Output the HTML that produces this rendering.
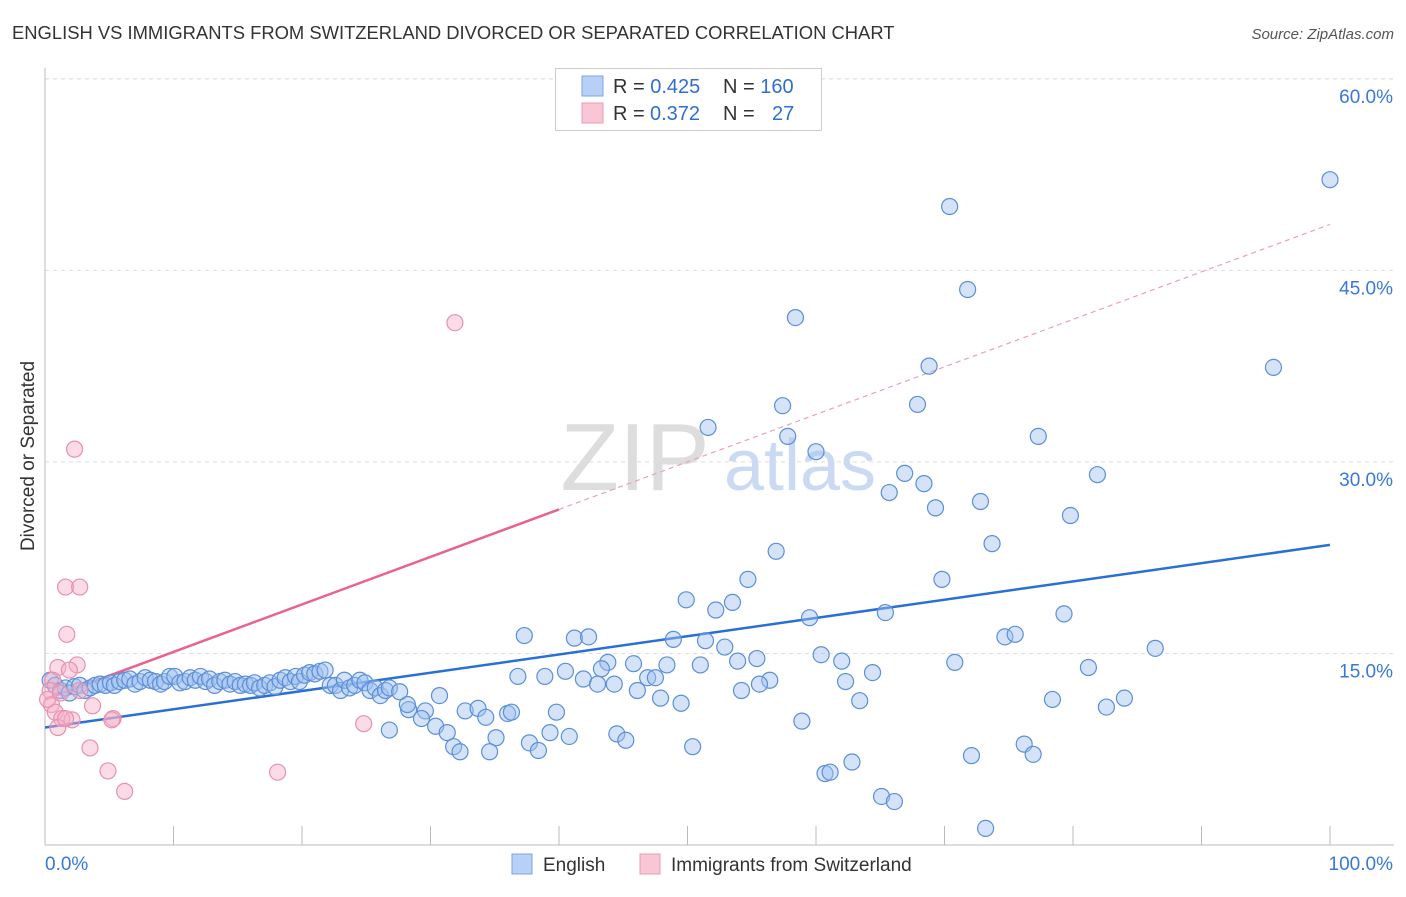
<!DOCTYPE html>
<html><head><meta charset="utf-8"><style>
body{margin:0;background:#fff;font-family:"Liberation Sans",sans-serif;}
svg text{font-family:"Liberation Sans",sans-serif;}
</style></head><body>
<svg id="chart" width="1406" height="892" xmlns="http://www.w3.org/2000/svg">
<text x="12" y="39" font-size="18.4" fill="#333">ENGLISH VS IMMIGRANTS FROM SWITZERLAND DIVORCED OR SEPARATED CORRELATION CHART</text>
<text x="1394" y="39" font-size="15" fill="#555" font-style="italic" text-anchor="end">Source: ZipAtlas.com</text>
<text x="34" y="456" font-size="19" fill="#333" text-anchor="middle" transform="rotate(-90 34 456)">Divorced or Separated</text>
<g><text x="635" y="490" font-size="96" fill="#ddd" font-family="Liberation Serif" text-anchor="middle">ZIP</text><text x="800" y="490" font-size="72" fill="#c9daf2" text-anchor="middle">atlas</text></g>
<g id="grid"></g><g id="axes"></g><g id="trends"></g><g id="pts"></g>
<g>
<rect x="555.5" y="68.5" width="266" height="62" fill="#fff" stroke="#ccc"/>
<rect x="582" y="76" width="21" height="20" fill="#b8d0f5" stroke="#7aa6e6"/>
<rect x="582" y="103" width="21" height="20" fill="#f9c6d5" stroke="#ec9ab5"/>
<text x="613" y="93" font-size="20" fill="#333">R = <tspan fill="#2f6fd1">0.425</tspan><tspan x="723">N = </tspan><tspan fill="#2f6fd1">160</tspan></text>
<text x="613" y="120" font-size="20" fill="#333">R = <tspan fill="#2f6fd1" x="650">0.372</tspan><tspan x="723">N = </tspan><tspan fill="#2f6fd1" x="772">27</tspan></text>
</g>
<g>
<rect x="512" y="854" width="20" height="20" fill="#b8d0f5" stroke="#7aa6e6"/>
<text x="543" y="871" font-size="19" fill="#333">English</text>
<rect x="640" y="854" width="20" height="20" fill="#f9c6d5" stroke="#ec9ab5"/>
<text x="671" y="871" font-size="19" fill="#333">Immigrants from Switzerland</text>
</g>
</svg>
<script>
const yTicks=[15,30,45,60];
const yTickLabels=["15.0%","30.0%","45.0%","60.0%"];
const blueX=[100,70.4,71.8,58.4,68.8,95.6,57.4,67.9,51.6,57.8,77.3,60.0,66.9,65.7,68.4,72.8,81.9,69.3,79.8,73.7,56.9,69.8,54.7,49.9,53.5,52.2,79.3,59.5,65.4,37.3,41.2,42.3,74.7,75.5,48.9,51.4,52.9,86.4,60.4,55.4,53.9,62.0,70.8,43.8,45.8,48.4,51.0,81.2,40.5,43.3,64.4,36.8,38.9,41.9,46.9,47.5,56.4,62.3,55.6,43.0,44.3,54.2,46.1,47.9,49.5,63.4,78.4,84.0,82.6,30.7,32.7,33.7,34.3,36.0,36.3,39.8,29.6,28.3,29.3,28.2,30.4,26.8,31.3,35.1,37.7,39.3,40.8,44.5,45.2,31.8,32.3,34.6,38.4,50.4,58.9,62.8,72.1,76.2,76.9,60.7,61.1,65.1,66.1,73.2,
0.4,0.8,1.2,1.6,1.9,2.3,2.7,3.1,3.5,3.9,4.3,4.7,5.1,5.4,5.8,6.2,6.6,7.0,7.4,7.8,8.2,8.6,9.0,9.3,9.7,10.1,10.5,10.9,11.3,11.7,12.1,12.5,12.8,13.2,13.6,14.0,14.4,14.8,15.2,15.6,16.0,16.3,16.7,17.1,17.5,17.9,18.3,18.7,19.1,19.5,19.8,20.2,20.6,21.0,21.4,21.8,22.2,22.6,23.0,23.3,23.7,24.1,24.5,24.9,25.3,25.7,26.1,26.5,26.8,27.6];
const blueY=[52.1,50.0,43.5,41.3,37.5,37.4,34.4,34.5,32.7,32.0,32.0,30.8,29.1,27.6,28.3,26.9,29.0,26.4,25.8,23.6,23.0,20.8,20.8,19.2,19.0,18.4,18.1,17.8,18.2,16.4,16.2,16.3,16.3,16.5,16.1,16.0,15.5,15.4,14.9,14.6,14.4,14.4,14.3,14.3,14.2,14.1,14.1,13.9,13.6,13.8,13.5,13.2,13.2,13.0,13.1,13.1,12.9,12.8,12.6,12.6,12.6,12.1,12.1,11.5,11.1,11.3,11.4,11.5,10.8,11.7,10.5,10.7,10.0,10.3,10.4,10.4,10.5,10.6,9.9,11.0,9.3,9.0,8.8,8.4,8.0,8.8,8.5,8.7,8.2,7.7,7.3,7.3,7.4,7.7,9.7,6.5,7.0,7.9,7.1,5.6,5.7,3.8,3.4,1.3,
12.9,12.5,12.1,12.3,11.9,12.4,12.5,12.1,12.3,12.5,12.6,12.5,12.7,12.5,12.8,12.9,13.0,12.6,12.8,13.1,12.9,12.8,12.6,12.8,13.2,13.2,12.7,12.8,13.1,12.9,13.2,12.8,13.0,12.5,12.8,12.9,12.6,12.8,12.5,12.6,12.5,12.7,12.3,12.5,12.7,12.4,12.9,13.1,12.8,13.2,12.8,13.3,13.5,13.4,13.6,13.7,12.5,12.5,12.1,12.9,12.3,12.5,12.9,12.7,12.1,12.3,11.7,12.1,12.3,12.0];
const pinkX=[31.9,2.3,1.6,2.7,1.7,1.0,2.5,1.9,0.6,0.4,2.7,0.5,3.7,0.8,1.3,2.1,5.3,1.0,24.8,3.5,4.9,18.1,6.2,0.2,1.2,1.6,5.2];
const pinkY=[40.9,31.0,20.2,20.2,16.5,13.9,14.1,13.7,12.9,12.1,12.1,11.0,10.9,10.4,9.9,9.8,9.9,9.2,9.5,7.6,5.8,5.7,4.2,11.4,11.9,9.9,9.8];
const blueTrend=[9.2,23.5];
const pinkTrend=[11.4,0.372];
const NS="http://www.w3.org/2000/svg";
const X=v=>45+v*12.85, Y=v=>845-v*12.77;
function mk(t,a,p){const e=document.createElementNS(NS,t);for(const k in a)e.setAttribute(k,a[k]);p.appendChild(e);return e;}
const grid=document.getElementById('grid'),axes=document.getElementById('axes'),tr=document.getElementById('trends'),pts=document.getElementById('pts');
const topLine=mk('line',{x1:45,x2:1394,y1:79,y2:79,stroke:'#ddd','stroke-dasharray':'4 4'},grid);


yTicks.forEach((v,i)=>{
 const g=mk('line',{x1:45,x2:1394,y1:Y(v),y2:Y(v),stroke:'#ddd','stroke-dasharray':'4 4'},grid);
 
 
 const t=mk('text',{x:1393,y:Y(v)+24,'font-size':19,fill:'#3a78d8','text-anchor':'end'},axes);
 t.textContent=yTickLabels[i];
 
 
});
mk('line',{x1:45,x2:45,y1:68,y2:845,stroke:'#bbb'},axes);
mk('line',{x1:45,x2:1394,y1:845,y2:845,stroke:'#bbb'},axes);
for(let i=0;i<=10;i++){mk('line',{x1:X(i*10),x2:X(i*10),y1:826,y2:845,stroke:'#bbb'},axes);}
const xl=mk('text',{x:45,y:870,'font-size':19,fill:'#3a78d8'},axes);xl.textContent='0.0%';


const xr=mk('text',{x:1393,y:870,'font-size':19,fill:'#3a78d8','text-anchor':'end'},axes);xr.textContent='100.0%';


function circ(x,y,fill,st,name){const c=mk('circle',{cx:X(x),cy:Y(y),r:8,fill:fill,stroke:st,'stroke-width':1.2},pts);
 
 }
blueX.forEach((x,i)=>circ(x,blueY[i],'rgba(160,192,240,0.45)','#5b8fd9','point-english'));
pinkX.forEach((x,i)=>circ(x,pinkY[i],'rgba(246,176,200,0.45)','#e891ad','point-switzerland'));
const bl=mk('line',{x1:X(0),y1:Y(blueTrend[0]),x2:X(100),y2:Y(blueTrend[1]),stroke:'#2a6fd6','stroke-width':2.5},tr);


const p=x=>pinkTrend[0]+pinkTrend[1]*x;
const ps=mk('line',{x1:X(0),y1:Y(p(0)),x2:X(40),y2:Y(p(40)),stroke:'#e8648f','stroke-width':2.5},tr);


const pd=mk('line',{x1:X(40),y1:Y(p(40)),x2:X(100),y2:Y(p(100)),stroke:'#eaa0b8','stroke-width':1.2,'stroke-dasharray':'5 4'},tr);


</script>
</body></html>
